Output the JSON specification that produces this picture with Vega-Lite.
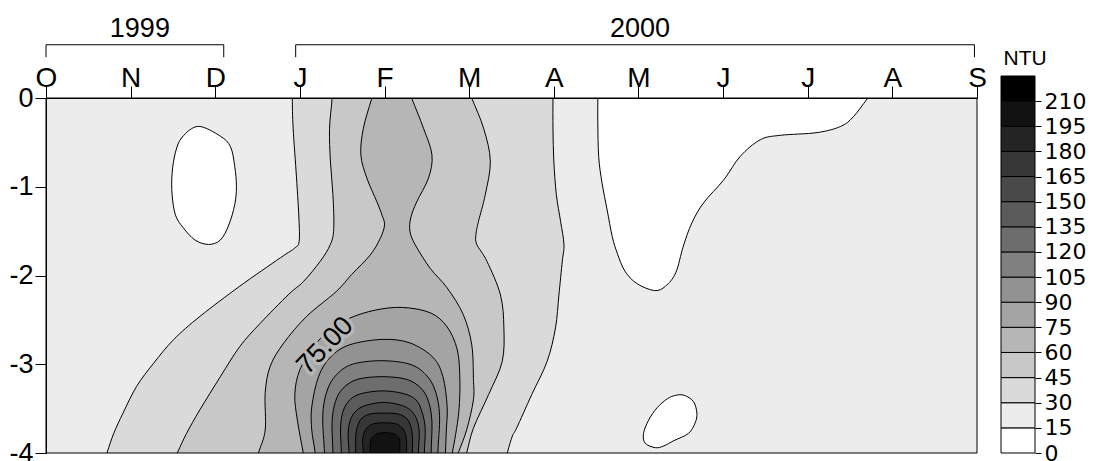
{
  "$schema": "https://vega.github.io/schema/vega-lite/v6.json",
  "width": 931,
  "height": 355,
  "autosize": {"type": "none"},
  "padding": {"left": 46, "top": 98, "right": 121, "bottom": 8},
  "background": "white",
  "config": {
    "font": "Liberation Sans",
    "view": {"fill": "#ececec", "stroke": null},
    "axis": {"labelColor": "black", "tickColor": "black", "domainColor": "black", "grid": false, "labelFlush": false, "labelOverlap": false, "tickWidth": 1, "domainWidth": 1}
  },
  "datasets": {
    "contours": [
      {"id": "w1", "level": 0, "xs": [1.80, 2.06, 2.18, 2.23, 2.25, 2.23, 2.16, 2.06, 1.92, 1.76, 1.62, 1.53, 1.49, 1.49, 1.53, 1.61], "ys": [-0.32, -0.43, -0.55, -0.77, -1.00, -1.20, -1.43, -1.60, -1.65, -1.60, -1.46, -1.32, -1.09, -0.85, -0.61, -0.44]},
      {"id": "w2", "level": 0, "xs": [6.52, 6.52, 6.52, 6.53, 6.57, 6.63, 6.69, 6.75, 6.84, 6.98, 7.19, 7.32, 7.44, 7.53, 7.63, 7.77, 8.01, 8.20, 8.44, 8.68, 9.11, 9.39, 9.54, 9.71, 9.95], "ys": [0.3, 0, -0.28, -0.66, -0.96, -1.26, -1.56, -1.75, -1.95, -2.09, -2.17, -2.12, -1.97, -1.67, -1.41, -1.18, -0.92, -0.66, -0.47, -0.42, -0.39, -0.32, -0.21, 0, 0.3]},
      {"id": "w3", "level": 0, "xs": [7.44, 7.54, 7.65, 7.69, 7.67, 7.59, 7.42, 7.30, 7.20, 7.08, 7.06, 7.12, 7.22, 7.34], "ys": [-3.35, -3.35, -3.42, -3.55, -3.66, -3.78, -3.86, -3.92, -3.94, -3.89, -3.78, -3.63, -3.49, -3.39]},
      {"id": "r030", "level": 30, "xs": [2.91, 2.91, 2.92, 2.96, 2.99, 2.99, 2.94, 2.77, 2.29, 1.82, 1.51, 1.27, 1.07, 0.91, 0.80, 0.72, 0.62, 5.37, 5.45, 5.51, 5.56, 5.74, 5.92, 6.02, 6.06, 6.10, 6.12, 6.08, 6.03, 6.00, 5.99, 5.99, 5.99], "ys": [0.3, 0, -0.34, -0.90, -1.39, -1.62, -1.69, -1.80, -2.12, -2.46, -2.72, -2.99, -3.25, -3.55, -3.78, -4.0, -4.3, -4.3, -4.0, -3.81, -3.72, -3.34, -2.97, -2.59, -2.22, -1.84, -1.65, -1.39, -1.09, -0.71, -0.34, 0, 0.3]},
      {"id": "r045", "level": 45, "xs": [3.38, 3.38, 3.35, 3.36, 3.39, 3.40, 3.36, 3.24, 3.04, 2.87, 2.53, 2.29, 2.06, 1.82, 1.66, 1.55, 1.39, 4.88, 4.97, 5.05, 5.23, 5.39, 5.41, 5.37, 5.21, 5.09, 5.08, 5.11, 5.19, 5.25, 5.17, 5.03, 4.91], "ys": [0.3, 0, -0.34, -0.71, -1.09, -1.47, -1.65, -1.84, -2.07, -2.21, -2.54, -2.80, -3.14, -3.51, -3.78, -4.0, -4.3, -4.3, -4.0, -3.72, -3.34, -2.97, -2.59, -2.22, -1.84, -1.65, -1.54, -1.39, -1.09, -0.71, -0.34, 0, 0.3]},
      {"id": "r060", "level": 60, "xs": [3.94, 3.85, 3.75, 3.72, 3.79, 3.91, 3.97, 4.00, 3.95, 3.83, 3.61, 3.43, 3.08, 2.81, 2.65, 2.59, 2.59, 2.51, 2.42, 4.75, 4.87, 4.97, 5.05, 5.05, 5.03, 4.93, 4.74, 4.54, 4.36, 4.30, 4.31, 4.38, 4.52, 4.56, 4.46, 4.32, 4.20], "ys": [0.3, 0, -0.34, -0.64, -0.90, -1.17, -1.32, -1.43, -1.58, -1.77, -1.99, -2.18, -2.46, -2.76, -3.02, -3.32, -3.74, -4.0, -4.3, -4.3, -4.0, -3.74, -3.40, -3.16, -2.78, -2.44, -2.14, -1.92, -1.65, -1.50, -1.35, -1.17, -0.90, -0.64, -0.34, 0, 0.3]},
      {"id": "r075", "level": 75, "xs": [3.10, 3.04, 2.97, 2.94, 3.00, 3.18, 3.36, 3.59, 3.89, 4.21, 4.54, 4.74, 4.86, 4.89, 4.88, 4.84, 4.80, 4.74], "ys": [-4.3, -4.0, -3.63, -3.34, -3.06, -2.78, -2.61, -2.48, -2.39, -2.36, -2.42, -2.58, -2.84, -3.17, -3.51, -3.79, -4.0, -4.3]},
      {"id": "r090", "level": 90, "xs": [3.20, 3.18, 3.14, 3.14, 3.22, 3.36, 3.59, 3.98, 4.30, 4.57, 4.69, 4.74, 4.73, 4.72, 4.71], "ys": [-4.3, -4.0, -3.74, -3.48, -3.14, -2.92, -2.78, -2.72, -2.76, -2.92, -3.14, -3.48, -3.74, -4.0, -4.3]},
      {"id": "r105", "level": 105, "xs": [3.29, 3.29, 3.27, 3.32, 3.43, 3.62, 3.96, 4.30, 4.49, 4.60, 4.65, 4.63, 4.63], "ys": [-4.3, -4.0, -3.58, -3.30, -3.12, -3.00, -2.96, -3.00, -3.12, -3.30, -3.58, -4.0, -4.3]},
      {"id": "r120", "level": 120, "xs": [3.39, 3.39, 3.38, 3.42, 3.51, 3.68, 3.97, 4.26, 4.43, 4.52, 4.56, 4.55, 4.55], "ys": [-4.3, -4.0, -3.65, -3.42, -3.27, -3.17, -3.14, -3.17, -3.27, -3.42, -3.65, -4.0, -4.3]},
      {"id": "r135", "level": 135, "xs": [3.49, 3.49, 3.48, 3.51, 3.59, 3.73, 3.98, 4.22, 4.37, 4.44, 4.48, 4.47, 4.47], "ys": [-4.3, -4.0, -3.72, -3.53, -3.40, -3.33, -3.30, -3.33, -3.40, -3.53, -3.72, -4.0, -4.3]},
      {"id": "r150", "level": 150, "xs": [3.58, 3.58, 3.57, 3.60, 3.67, 3.79, 3.99, 4.19, 4.31, 4.38, 4.41, 4.40, 4.40], "ys": [-4.3, -4.0, -3.77, -3.62, -3.52, -3.46, -3.43, -3.46, -3.52, -3.62, -3.77, -4.0, -4.3]},
      {"id": "r165", "level": 165, "xs": [3.66, 3.66, 3.66, 3.68, 3.73, 3.83, 4.00, 4.16, 4.26, 4.31, 4.33, 4.33, 4.33], "ys": [-4.3, -4.0, -3.82, -3.70, -3.61, -3.56, -3.55, -3.56, -3.61, -3.70, -3.82, -4.0, -4.3]},
      {"id": "r180", "level": 180, "xs": [3.75, 3.75, 3.74, 3.76, 3.80, 3.87, 4.00, 4.13, 4.20, 4.24, 4.26, 4.26, 4.26], "ys": [-4.3, -4.0, -3.86, -3.77, -3.71, -3.67, -3.66, -3.67, -3.71, -3.77, -3.86, -4.0, -4.3]},
      {"id": "r195", "level": 195, "xs": [3.83, 3.83, 3.83, 3.84, 3.87, 3.92, 4.01, 4.10, 4.15, 4.18, 4.18, 4.18, 4.18], "ys": [-4.3, -4.0, -3.91, -3.85, -3.81, -3.78, -3.77, -3.78, -3.81, -3.85, -3.91, -4.0, -4.3]}
    ],
    "contourLabels": [
      {"level": 75, "x": 3.30, "y": -2.79}
    ],
    "years": [
      {"year": "1999", "start": 0, "end": 2.1},
      {"year": "2000", "start": 2.95, "end": 10.97}
    ],
    "legend": [
      {"level": 0, "upper": 15}, {"level": 15, "upper": 30}, {"level": 30, "upper": 45},
      {"level": 45, "upper": 60}, {"level": 60, "upper": 75}, {"level": 75, "upper": 90},
      {"level": 90, "upper": 105}, {"level": 105, "upper": 120}, {"level": 120, "upper": 135},
      {"level": 135, "upper": 150}, {"level": 150, "upper": 165}, {"level": 165, "upper": 180},
      {"level": 180, "upper": 195}, {"level": 195, "upper": 210}, {"level": 210, "upper": 225}
    ]
  },
  "layer": [
    {
      "layer": [
        {
          "data": {"name": "contours"},
          "transform": [
            {"flatten": ["xs", "ys"], "as": ["x", "y"]},
            {"window": [{"op": "row_number", "as": "i"}], "groupby": ["id"]}
          ],
          "mark": {"type": "line", "interpolate": "cardinal-closed", "stroke": "black", "strokeWidth": 1, "clip": true},
          "encoding": {
            "x": {
              "field": "x", "type": "quantitative",
              "scale": {"domain": [0, 11], "nice": false, "zero": false},
              "axis": {
                "orient": "top", "values": [0, 1, 2, 3, 4, 5, 6, 7, 8, 9, 10, 11],
                "labelExpr": "['O','N','D','J','F','M','A','M','J','J','A','S'][datum.value]",
                "tickSize": 12, "labelPadding": 0, "labelBaseline": "alphabetic",
                "labelFontSize": 28, "title": null, "zindex": 1
              }
            },
            "y": {
              "field": "y", "type": "quantitative",
              "scale": {"domain": [-4, 0], "nice": false, "zero": false},
              "axis": {
                "orient": "left", "values": [0, -1, -2, -3, -4],
                "labelExpr": "'' + datum.value",
                "tickSize": 11, "labelPadding": 2, "labelFontSize": 27, "title": null, "zindex": 1
              }
            },
            "fill": {
              "field": "level", "type": "ordinal", "legend": null,
              "scale": {
                "domain": [0, 15, 30, 45, 60, 75, 90, 105, 120, 135, 150, 165, 180, 195, 210],
                "range": ["#ffffff", "#ececec", "#dadada", "#c8c8c8", "#b6b6b6", "#a4a4a4", "#929292", "#808080", "#6d6d6d", "#5b5b5b", "#494949", "#373737", "#242424", "#121212", "#000000"]
              }
            },
            "detail": {"field": "id"},
            "order": {"field": "i", "type": "quantitative"}
          }
        },
        {
          "data": {"name": "contourLabels"},
          "mark": {"type": "text", "angle": -46, "fontSize": 27, "fill": "#b6b6b6", "stroke": "#b6b6b6", "strokeWidth": 7, "strokeJoin": "round"},
          "encoding": {
            "x": {"field": "x", "type": "quantitative", "scale": {"domain": [0, 11], "nice": false, "zero": false}},
            "y": {"field": "y", "type": "quantitative", "scale": {"domain": [-4, 0], "nice": false, "zero": false}},
            "text": {"field": "level", "type": "quantitative", "format": ".2f"}
          }
        },
        {
          "data": {"name": "contourLabels"},
          "mark": {"type": "text", "angle": -46, "fontSize": 27, "fill": "black"},
          "encoding": {
            "x": {"field": "x", "type": "quantitative", "scale": {"domain": [0, 11], "nice": false, "zero": false}},
            "y": {"field": "y", "type": "quantitative", "scale": {"domain": [-4, 0], "nice": false, "zero": false}},
            "text": {"field": "level", "type": "quantitative", "format": ".2f"}
          }
        },
        {
          "data": {"name": "years"},
          "mark": {"type": "rule", "stroke": "black", "strokeWidth": 1},
          "encoding": {
            "x": {"field": "start", "type": "quantitative", "scale": {"domain": [0, 11], "nice": false, "zero": false}},
            "x2": {"field": "end"},
            "y": {"datum": 0.6, "type": "quantitative", "scale": {"domain": [-4, 0], "nice": false, "zero": false}}
          }
        },
        {
          "data": {"name": "years"},
          "transform": [{"fold": ["start", "end"], "as": ["side", "at"]}],
          "mark": {"type": "rule", "stroke": "black", "strokeWidth": 1},
          "encoding": {
            "x": {"field": "at", "type": "quantitative", "scale": {"domain": [0, 11], "nice": false, "zero": false}},
            "y": {"datum": 0.6, "type": "quantitative", "scale": {"domain": [-4, 0], "nice": false, "zero": false}},
            "y2": {"datum": 0.46}
          }
        },
        {
          "data": {"name": "years"},
          "transform": [{"calculate": "(datum.start + datum.end) / 2", "as": "mid"}],
          "mark": {"type": "text", "fontSize": 27, "baseline": "alphabetic", "dx": 5, "fill": "black"},
          "encoding": {
            "x": {"field": "mid", "type": "quantitative", "scale": {"domain": [0, 11], "nice": false, "zero": false}},
            "y": {"datum": 0.69, "type": "quantitative", "scale": {"domain": [-4, 0], "nice": false, "zero": false}},
            "text": {"field": "year"}
          }
        },
        {
          "data": {"values": [{}]},
          "mark": {"type": "rect", "filled": false, "stroke": "black", "strokeWidth": 1},
          "encoding": {
            "x": {"datum": 0, "type": "quantitative", "scale": {"domain": [0, 11], "nice": false, "zero": false}},
            "x2": {"datum": 11},
            "y": {"datum": 0, "type": "quantitative", "scale": {"domain": [-4, 0], "nice": false, "zero": false}},
            "y2": {"datum": -4}
          }
        }
      ]
    },
    {
      "data": {"name": "legend"},
      "mark": {"type": "rect", "stroke": "black", "strokeWidth": 1},
      "encoding": {
        "x": {"datum": 0, "type": "quantitative", "scale": {"domain": [0, 1], "range": [955, 989], "nice": false, "zero": false}, "axis": null},
        "x2": {"datum": 1},
        "y": {
          "field": "level", "type": "quantitative",
          "scale": {"domain": [0, 225], "range": [355, -22], "nice": false, "zero": false},
          "axis": {
            "orient": "right", "offset": 58,
            "values": [0, 15, 30, 45, 60, 75, 90, 105, 120, 135, 150, 165, 180, 195, 210],
            "tickSize": 6, "domain": false, "labelPadding": 3,
            "labelFont": "DejaVu Sans", "labelFontSize": 22, "labelBaseline": "middle",
            "title": "NTU", "titleAngle": 0, "titleFont": "Liberation Sans", "titleFontSize": 21,
            "titleFontWeight": "normal", "titleColor": "black", "titleAlign": "left",
            "titleBaseline": "alphabetic", "titleX": -32, "titleY": -34
          }
        },
        "y2": {"field": "upper"},
        "fill": {
          "field": "level", "type": "ordinal", "legend": null,
          "scale": {
            "domain": [0, 15, 30, 45, 60, 75, 90, 105, 120, 135, 150, 165, 180, 195, 210],
            "range": ["#ffffff", "#ececec", "#dadada", "#c8c8c8", "#b6b6b6", "#a4a4a4", "#929292", "#808080", "#6d6d6d", "#5b5b5b", "#494949", "#373737", "#242424", "#121212", "#000000"]
          }
        }
      }
    }
  ],
  "resolve": {"scale": {"x": "independent", "y": "independent"}}
}
